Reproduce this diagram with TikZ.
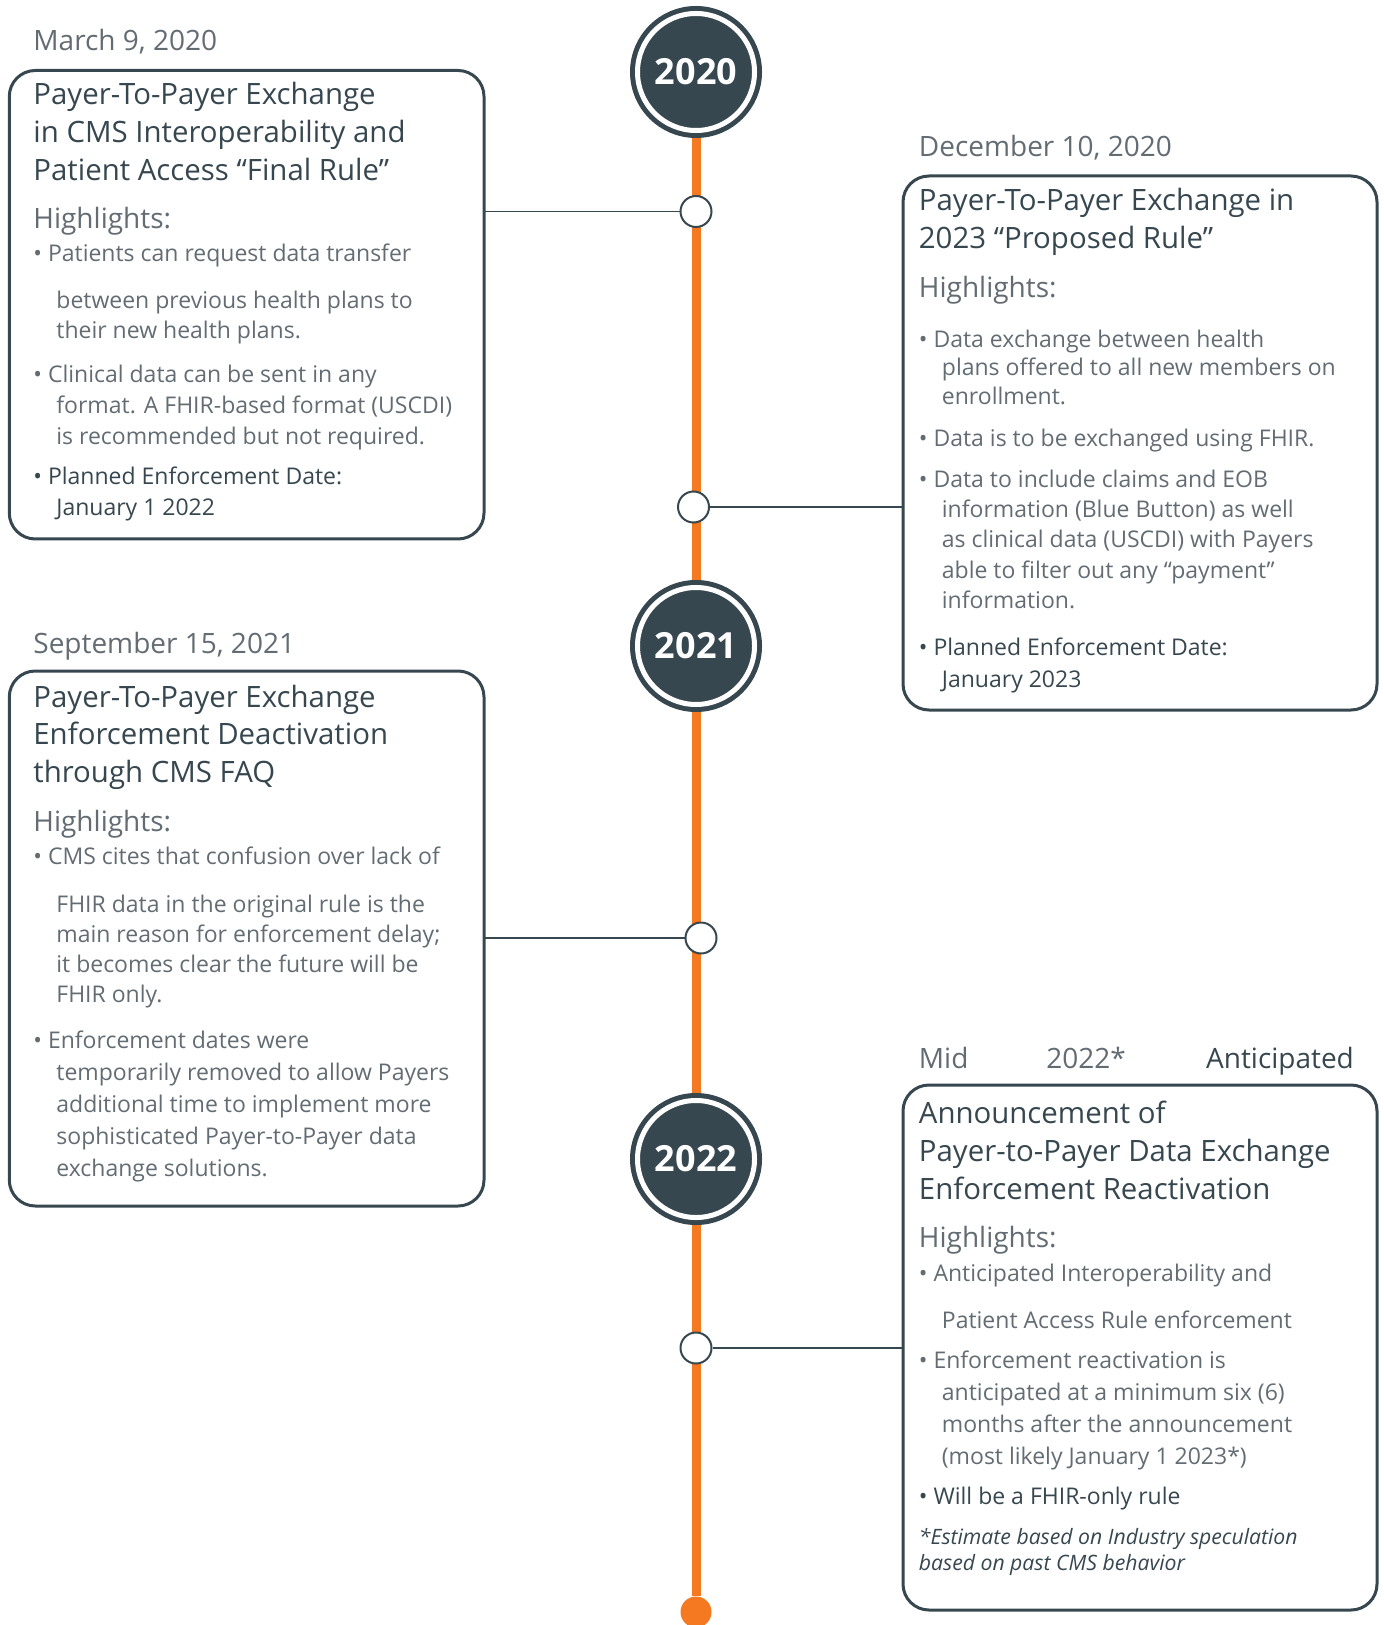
\documentclass[tikz,border=0pt]{standalone}
\usepackage{fontspec}
\setmainfont{Open Sans}
\usetikzlibrary{positioning,backgrounds}
\definecolor{slate}{RGB}{55,71,79}
\definecolor{softgrey}{RGB}{98,108,114}
\definecolor{timelineorange}{RGB}{244,121,32}
\newcommand{\indentline}{\hspace*{11.5pt}}

\begin{document}
\begin{tikzpicture}[x=0.5pt, y=-0.5pt,
    card/.style={rectangle, draw=slate, line width=1.5pt, rounded corners=13pt, anchor=north west, inner sep=0pt, outer sep=0pt},
    datelbl/.style={anchor=base west, inner sep=0pt, text=softgrey, font=\fontsize{14}{16}\selectfont},
    hilite/.style={datelbl},
    cardtitle/.style={anchor=base west, inner sep=0pt, align=left, text=slate, font=\fontsize{14.7}{18.9}\selectfont},
    bullets/.style={anchor=base west, inner sep=0pt, align=left, text=softgrey, font=\fontsize{11.5}{#1}\selectfont},
    bullets/.default=15pt,
    strongbullet/.style={bullets=#1, text=slate},
    strongbullet/.default=15.5pt,
    footnote/.style={anchor=base west, inner sep=0pt, align=left, text=slate, font=\fontsize{10.6}{13}\selectfont\itshape},
    yearball/.style={circle, fill=slate, draw=slate, double=white, double distance=2.5pt, line width=2.5pt, minimum size=58.5pt, inner sep=0pt, text=white, font=\fontsize{18}{20}\selectfont\bfseries},
    joint/.style={circle, draw=slate, line width=1pt, fill=white, minimum size=15.5pt, inner sep=0pt},
    enddot/.style={circle, fill=timelineorange, minimum size=15.5pt, inner sep=0pt},
    link/.style={draw=slate, line width=0.8pt},
    timeline/.style={draw=timelineorange, line width=4.5pt}]

    \useasboundingbox (0,0) rectangle (1384,1625);

    % timeline markers
    \node[yearball] (y2020) at (696,72) {\raisebox{-1pt}{2020}};
    \node[yearball] (y2021) at (696,646) {\raisebox{-1pt}{2021}};
    \node[yearball] (y2022) at (696,1159) {\raisebox{-1pt}{2022}};
    \node[enddot] (tend) at (696,1612) {};

    \node[joint] (j1) at (696,211.5) {};
    \node[joint] (j2) at (693.5,507) {};
    \node[joint] (j3) at (701,938) {};
    \node[joint] (j4) at (696,1348) {};

    \begin{scope}[on background layer]
        \draw[timeline] (y2020) -- (tend);
    \end{scope}

    % cards
    \node[card, minimum width=237.35pt, minimum height=234.25pt] (card1) at (9.3,70.5) {};
    \node[card, minimum width=237pt, minimum height=267pt] (card2) at (903,176) {};
    \node[card, minimum width=237.35pt, minimum height=267.5pt] (card3) at (9.3,671) {};
    \node[card, minimum width=237pt, minimum height=262.5pt] (card4) at (903,1085) {};

    \draw[link] (card1.east |- j1) -- (j1);
    \draw[link] (j2) -- (card2.west |- j2);
    \draw[link] (card3.east |- j3) -- (j3);
    \draw[link] (j4) -- (card4.west |- j4);

    % March 2020 (multi-line nodes sit on their last baseline)
    \node[datelbl] (date1) at (33,50.8) {March 9, 2020};
    \node[cardtitle] (title1) at (33,180.4) {Payer-To-Payer Exchange\\in CMS Interoperability and\\Patient Access “Final Rule”};
    \node[hilite] (hl1) at (33,229) {Highlights:};
    \node[bullets] (b11) at (33,339) {\textbullet\ Patients can request data transfer\\[8.5pt]\indentline between previous health plans to\\\indentline their new health plans.};
    \node[bullets=15.6pt] (b12) at (33,444.7) {\textbullet\ Clinical data can be sent in any\\\indentline format. A FHIR-based format (USCDI)\\\indentline is recommended but not required.};
    \node[strongbullet] (b13) at (33,516) {\textbullet\ Planned Enforcement Date:\\\indentline January 1 2022};

    % December 2020
    \node[datelbl] (date2) at (918.5,156.5) {December 10, 2020};
    \node[cardtitle] (title2) at (918.5,248.8) {Payer-To-Payer Exchange in\\2023 “Proposed Rule”};
    \node[hilite] (hl2) at (918.5,297.5) {Highlights:};
    \node[bullets=14.25pt] (b21) at (918.5,404.3) {\textbullet\ Data exchange between health\\\indentline plans offered to all new members on\\\indentline enrollment.};
    \node[bullets] (b22) at (918.5,446.8) {\textbullet\ Data is to be exchanged using FHIR.};
    \node[bullets=15.15pt] (b23) at (918.5,608.5) {\textbullet\ Data to include claims and EOB\\\indentline information (Blue Button) as well\\\indentline as clinical data (USCDI) with Payers\\\indentline able to filter out any “payment”\\\indentline information.};
    \node[strongbullet=16pt] (b24) at (918.5,687.3) {\textbullet\ Planned Enforcement Date:\\\indentline January 2023};

    % September 2021
    \node[datelbl] (date3) at (33,653.1) {September 15, 2021};
    \node[cardtitle] (title3) at (33,782.7) {Payer-To-Payer Exchange\\Enforcement Deactivation\\through CMS FAQ};
    \node[hilite] (hl3) at (33,831.4) {Highlights:};
    \node[bullets] (b31) at (33,1002.5) {\textbullet\ CMS cites that confusion over lack of\\[8.85pt]\indentline FHIR data in the original rule is the\\\indentline main reason for enforcement delay;\\\indentline it becomes clear the future will be\\\indentline FHIR only.};
    \node[bullets=16pt] (b32) at (33,1176.7) {\textbullet\ Enforcement dates were\\\indentline temporarily removed to allow Payers\\\indentline additional time to implement more\\\indentline sophisticated Payer-to-Payer data\\\indentline exchange solutions.};

    % Mid 2022
    \node[datelbl] (date4a) at (918.5,1068.8) {Mid};
    \node[datelbl] (date4b) at (1046,1068.8) {2022*};
    \node[datelbl, text=slate] (date4c) at (1205.7,1068.8) {Anticipated};
    \node[cardtitle] (title4) at (918.5,1199.5) {Announcement of\\Payer-to-Payer Data Exchange\\Enforcement Reactivation};
    \node[hilite] (hl4) at (918.5,1247.1) {Highlights:};
    \node[bullets] (b41) at (918.5,1328) {\textbullet\ Anticipated Interoperability and\\[8.3pt]\indentline Patient Access Rule enforcement};
    \node[bullets=16pt] (b42) at (918.5,1464.9) {\textbullet\ Enforcement reactivation is\\\indentline anticipated at a minimum six (6)\\\indentline months after the announcement\\\indentline (most likely January 1 2023*)};
    \node[strongbullet] (b43) at (918.5,1504.3) {\textbullet\ Will be a FHIR-only rule};
    \node[footnote] (note4) at (918.5,1570.6) {*Estimate based on Industry speculation\\based on past CMS behavior};
\end{tikzpicture}
\end{document}
